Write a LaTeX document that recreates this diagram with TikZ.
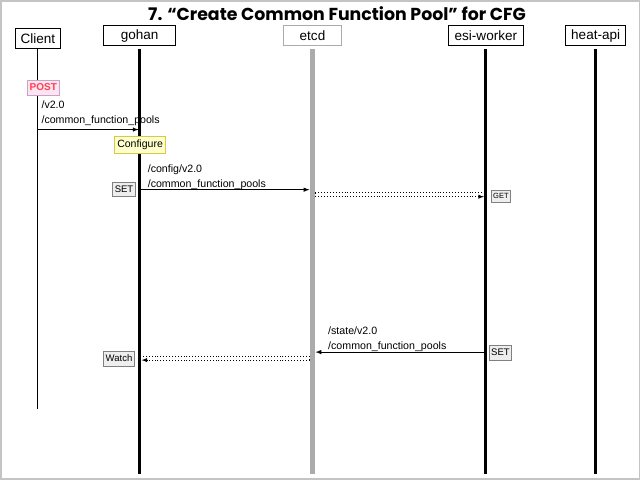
\documentclass[tikz,border=0pt]{standalone}
\usepackage{fontspec}
\setmainfont{Liberation Sans}
\newfontfamily\titlefont{Poppins}
\usepackage{tikz}
\usetikzlibrary{positioning}
\usetikzlibrary{shapes, arrows}
\definecolor{framegray}{HTML}{C4C4C4}
\definecolor{etcdgray}{HTML}{ABABAB}
\definecolor{postred}{HTML}{FF4050}
\definecolor{postfill}{HTML}{FCE4F2}
\definecolor{postdraw}{HTML}{C8A4C0}
\definecolor{cfgfill}{HTML}{FFFFCC}
\definecolor{cfgdraw}{HTML}{D8C848}
\definecolor{tagfill}{HTML}{EEEEEE}

\begin{document}
\begin{tikzpicture}[x=1pt, y=-1pt,
    actornode/.style={rectangle, draw, line width=1.2pt, fill=white,
      font=\fontsize{13.5}{13.5}\selectfont, minimum height=20pt, inner sep=2pt},
    lifeline/.style={line width=3pt},
    pathnode/.style={font=\fontsize{10.6}{15}\selectfont, align=left, inner sep=0pt},
    tagnode/.style={rectangle, draw=gray, fill=tagfill, line width=0.6pt,
      font=\fontsize{9.5}{9.5}\selectfont, inner sep=2pt, minimum height=14.5pt},
    msgarrow/.style={-latex, line width=1pt},
    watcharrow/.style={dotted, line width=0.9pt}, ]
    % Frame and title
    \draw[framegray, line width=1.5pt] (1.5,1.5) rectangle (638.5,478.5);
    \node[font=\titlefont\bfseries\fontsize{17.3}{17.3}\selectfont] (title) at (337,14)
    {7. “Create Common Function Pool” for CFG};
    % Nodes
    \node[actornode, minimum width=45pt] (client) at (38.5,39) {Client};
    \node[actornode, minimum width=72pt] (gohan) at (140,36.5) {gohan};
    \node[actornode, minimum width=58pt, draw=etcdgray] (etcd) at (312.5,36.5) {etcd};
    \node[actornode, minimum width=75pt] (esi) at (485.5,36.5) {esi-worker};
    \node[actornode, minimum width=60pt] (heat) at (595,36.5) {heat-api};
    \coordinate (bottom) at (0,474); \coordinate (clientbottom) at (0,409);
    % Lifelines
    \draw[line width=1pt] (client.south) -- (client |- clientbottom);
    \draw[lifeline] ([yshift=-3pt]gohan.south) -- (gohan |- bottom);
    \draw[lifeline, etcdgray, line width=5pt] ([yshift=-3pt]etcd.south) -- (etcd |- bottom);
    \draw[lifeline] ([yshift=-3pt]esi.south) -- (esi |- bottom);
    \draw[lifeline] ([yshift=-3pt]heat.south) -- (heat |- bottom);
    % Messages
    \coordinate (m1) at (0,130); \coordinate (m2) at (0,190);
    \coordinate (m3a) at (0,193); \coordinate (m3b) at (0,197);
    \coordinate (m4) at (0,352);
    \coordinate (m5a) at (0,356); \coordinate (m5b) at (0,360);
    \node[rectangle, draw=postdraw, fill=postfill, text=postred, line width=0.8pt,
    font=\bfseries\fontsize{10}{10}\selectfont, inner sep=2pt, minimum height=15pt] (post) at (44,88) {POST};
    \node[pathnode, anchor=west] (p1) at (42,114) {/v2.0\\/common\_function\_pools};
    \draw[msgarrow] (client |- m1) -- ([xshift=-1pt]gohan |- m1);
    \node[rectangle, draw=cfgdraw, fill=cfgfill, line width=0.9pt,
    font=\fontsize{10.5}{10.5}\selectfont, inner sep=2.5pt, minimum height=17pt] (configure) at (140.5,145.5) {Configure};
    \node[pathnode, anchor=west] (p2) at (148,178) {/config/v2.0\\/common\_function\_pools};
    \node[tagnode] (set1) at (124.5,189.5) {SET};
    \draw[msgarrow] (gohan |- m2) -- ([xshift=-3pt]etcd |- m2);
    \draw[watcharrow] ([xshift=3pt]etcd |- m3a) -- ([xshift=-2pt]esi |- m3a);
    \draw[watcharrow] ([xshift=3pt]etcd |- m3a) -- ([xshift=3pt]etcd |- m3b);
    \draw[watcharrow, -latex] ([xshift=3pt]etcd |- m3b) -- ([xshift=-2pt]esi |- m3b);
    \node[tagnode, font=\fontsize{7.5}{7.5}\selectfont, minimum height=12.5pt, inner sep=1.5pt] (get) at (500.5,196.5) {GET};
    \node[pathnode, anchor=west] (p3) at (328,339) {/state/v2.0\\/common\_function\_pools};
    \node[tagnode] (set2) at (500,352.5) {SET};
    \draw[msgarrow] (esi |- m4) -- ([xshift=3pt]etcd |- m4);
    \draw[watcharrow] ([xshift=-3pt]etcd |- m5a) -- ([xshift=2pt]gohan |- m5a);
    \draw[watcharrow] ([xshift=-3pt]etcd |- m5a) -- ([xshift=-3pt]etcd |- m5b);
    \draw[watcharrow, -latex] ([xshift=-3pt]etcd |- m5b) -- ([xshift=2pt]gohan |- m5b);
    \node[tagnode] (watch) at (119.5,358.5) {Watch};
\end{tikzpicture}
\end{document}
